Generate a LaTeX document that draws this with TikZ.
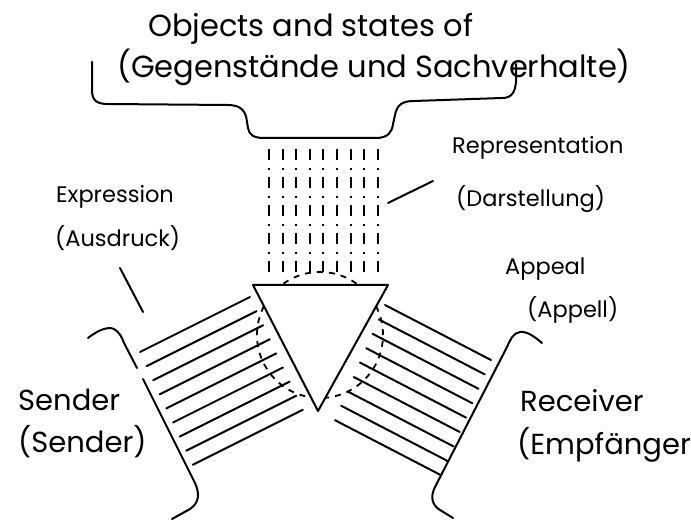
\documentclass[tikz,border=0pt]{standalone}
\usepackage{fontspec}
\setmainfont{Poppins}
\begin{document}
\begin{tikzpicture}[x=1pt,y=-1pt,
  ink/.style={line width=2pt,line cap=round,line join=round},
  titletext/.style={anchor=base west,inner sep=0pt,font=\fontsize{30.5}{30}\selectfont},
  lbl/.style={anchor=base west,inner sep=0pt,font=\fontsize{22.5}{22}\selectfont},
  bigtext/.style={anchor=base west,inner sep=0pt,font=\fontsize{29}{29}\selectfont}]
\useasboundingbox (0,0) rectangle (691,521);
\fill[white] (0,0) rectangle (691,521);

% title
\node[titletext] (t1) at (148,37) {Objects and states of};
\node[titletext] (t2) at (117,78) {(Gegenstände und Sachverhalte)};

% brace
\draw[ink] (92,62) -- (92,90) .. controls (92,100) and (96,104) .. (108,104)
  -- (228,105) .. controls (242,105) and (246,112) .. (247,122)
  -- (248,128) .. controls (249,135) and (254,138) .. (264,138)
  -- (376,138) .. controls (388,138) and (392,132) .. (393,124)
  -- (395,115) .. controls (397,105) and (402,101) .. (414,101)
  -- (502,98) .. controls (512,98) and (515,92) .. (516,82) -- (516,64);

% dotted columns (representation)
\foreach \i in {0,...,8}
  \draw[line width=2pt,dash pattern=on 11pt off 8pt on 2pt off 7pt]
    ({269+13.6*\i},149) -- ({269+13.6*\i},277);

% left hatch (expression)
\foreach \i in {0,...,8}
  \draw[ink] ({140+6.6*\i},{352+14.1*\i}) -- ++(110,-55);

% right hatch (appeal)
\foreach \i in {0,...,8}
  \draw[ink] ({385-6.25*\i},{305+14.4*\i}) -- ++(106,55);

% dashed circle
\draw[line width=1.8pt,dash pattern=on 6pt off 6pt] (320,335) circle[radius=63pt];

% triangle
\draw[ink,fill=white] (253,285) -- (388,285) -- (318,411) -- cycle;

% sender bracket
\draw[ink] (88,338) .. controls (97,331) and (107,326) .. (114,329)
  .. controls (119,332) and (122,337) .. (124,343) -- (137,368);
\draw[ink] (143,379) -- (195,483) .. controls (200,494) and (199,503) .. (190,509) -- (172,519);

% receiver bracket
\draw[ink] (542,343) .. controls (535,337) and (527,331) .. (520,332)
  .. controls (513,333) and (510,340) .. (507,347) -- (435,487)
  .. controls (430,497) and (432,505) .. (440,510) -- (453,518);

% labels
\node[lbl] (rep) at (452,154) {Representation};
\node[lbl] (dar) at (456,207) {(Darstellung)};
\node[lbl] (exp) at (56,203) {Expression};
\node[lbl] (aus) at (55,247) {(Ausdruck)};
\node[lbl] (app) at (505,275) {Appeal};
\node[lbl] (apl) at (527,318) {(Appell)};
\node[bigtext] (snd) at (18,410) {Sender};
\node[bigtext] (snd2) at (18,452) {(Sender)};
\node[bigtext] (rcv) at (520,411) {Receiver};
\node[bigtext] (emp) at (517,454) {(Empfänger};

% pointer lines
\coordinate (pe1) at (120,268);
\coordinate (pe2) at (143,312);
\draw[ink] (pe1) -- (pe2);
\coordinate (pr1) at (388,203);
\coordinate (pr2) at (433,181);
\draw[ink] (pr1) -- (pr2);
\end{tikzpicture}
\end{document}
